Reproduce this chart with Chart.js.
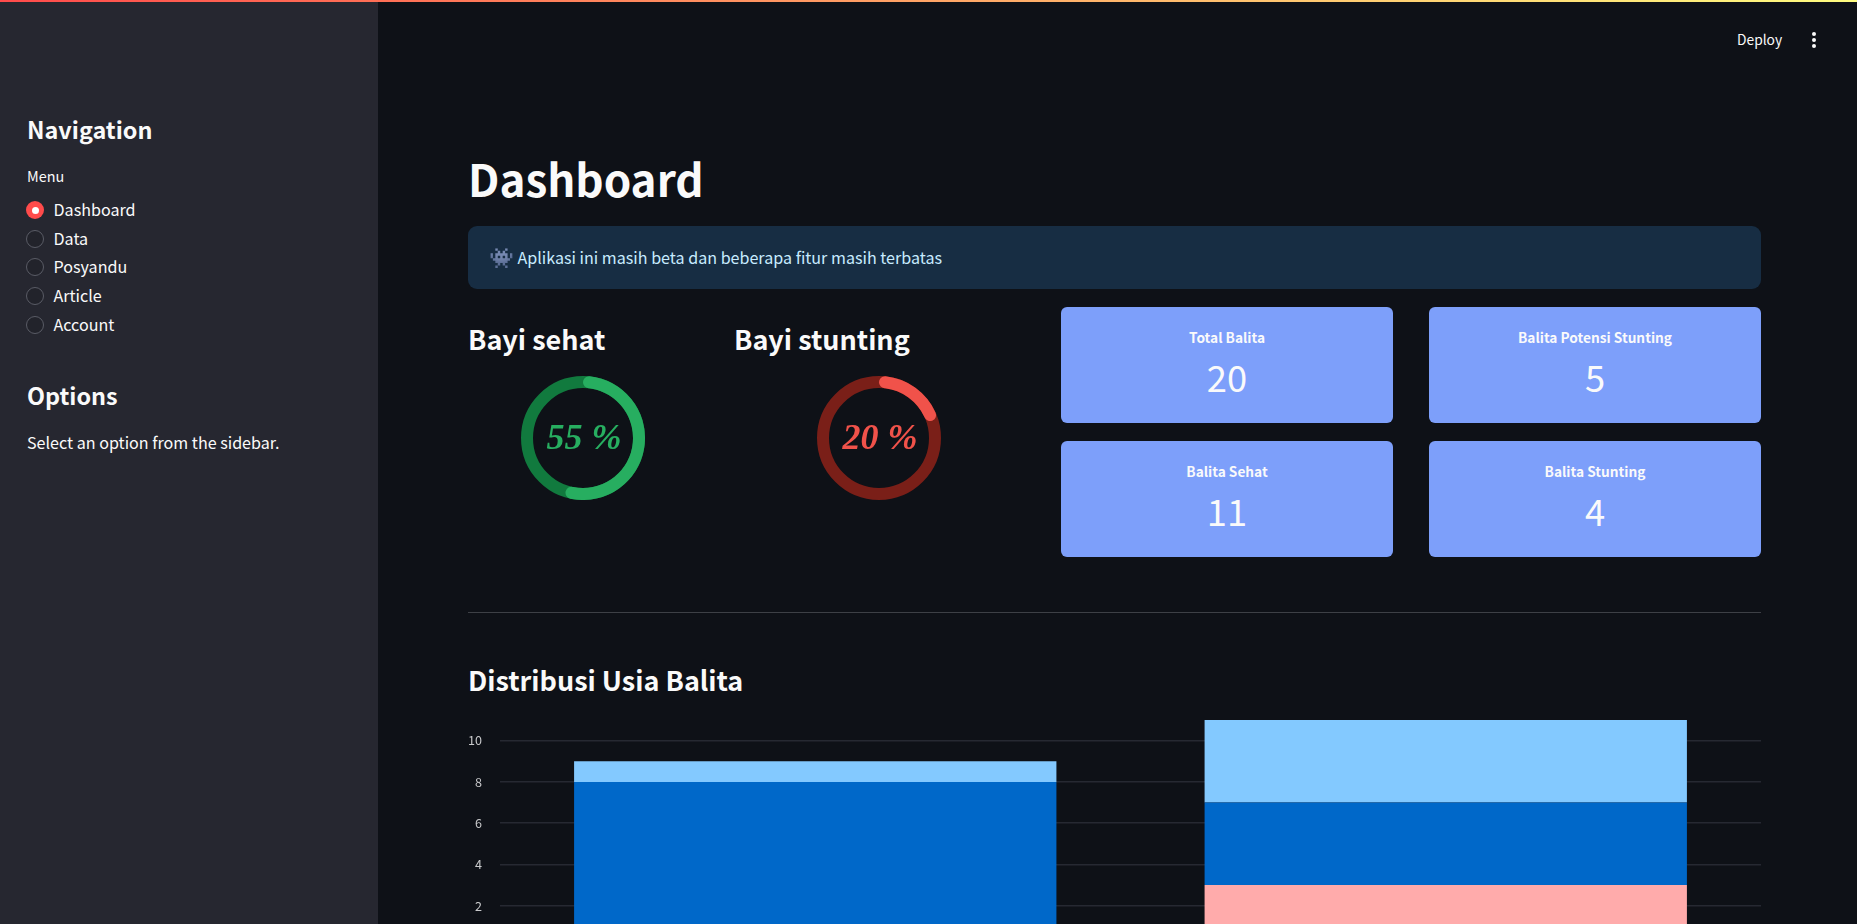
<!DOCTYPE html>
<html>
<head>
<meta charset="utf-8">
<title>Dashboard</title>
<script src="https://cdn.jsdelivr.net/npm/chart.js@4"></script>
<style>
  html, body { margin: 0; width: 1857px; height: 924px; overflow: hidden; background: #0e1117; }
  body { position: relative; color: #fafafa; font-family: "Noto Sans CJK SC", "Noto Sans", sans-serif; }
  .abs { position: absolute; white-space: nowrap; line-height: 1; }
  .mid { transform: translateY(-50%); }
  #stripe { position: absolute; left: 0; top: 0; width: 100%; height: 2px; background: linear-gradient(90deg, #ff4b4b, #fffd80); z-index: 3; }
  #sidebar { position: absolute; left: 0; top: 0; width: 378px; height: 924px; background: #262730; }
  .h-side { font-size: 23.4px; font-weight: 600; }
  .radio { position: absolute; left: 26px; width: 16px; height: 16px; border: 1px solid #5a5c66; border-radius: 50%; background: #22232b; }
  .radio.on { width: 18px; height: 18px; border: 0; background: #ff4b4b; }
  .radio.on::after { content: ""; position: absolute; left: 5.5px; top: 5.5px; width: 7px; height: 7px; background: #fff; border-radius: 50%; }
  .radio-label { font-size: 16.1px; }
  #banner { position: absolute; left: 468px; top: 226px; width: 1293px; height: 63px; background: #172d43; border-radius: 9px; }
  .h-sub { font-size: 27px; font-weight: 600; }
  .ring { position: absolute; top: 376px; width: 124px; height: 124px; }
  .ring-text { font-family: "Liberation Serif", serif; font-weight: 700; font-style: italic; font-size: 36px; transform: translate(-50%, -50%); }
  .card { position: absolute; width: 332px; height: 116px; background: #7d9ffa; border-radius: 6px; }
  .card-title { font-size: 13.7px; font-weight: 600; transform: translate(-50%, -50%); }
  .card-value { font-size: 36.3px; transform: translate(-50%, -50%); }
  #divider { position: absolute; left: 468px; top: 612px; width: 1293px; height: 1px; background: #3d4046; }
  #usia { position: absolute; left: 468px; top: 660px; }
  .dot { position: absolute; left: 1812px; width: 4px; height: 4px; border-radius: 50%; background: #fafafa; }
</style>
</head>
<body>
<div id="sidebar"></div>
<div id="stripe"></div>
<div id="page"></div>
<div class="dot" style="top:32px"></div>
<div class="dot" style="top:38px"></div>
<div class="dot" style="top:44px"></div>
<div id="banner"></div>
<div id="divider"></div>
<canvas id="usia" width="1293" height="340"></canvas>

<script>
// chart data
const usiaCategories = ['Kelompok A', 'Kelompok B'];
const pinkValues = [0, 3];
const darkValues = [8, 4];
const lightValues = [1, 4];
const usiaTicks = [0, 2, 4, 6, 8, 10];

const ringLabels = ['Bayi sehat', 'Bayi stunting'];
const ringValues = [55, 20];

const cardTitles = ['Total Balita', 'Balita Potensi Stunting', 'Balita Sehat', 'Balita Stunting'];
const cardValues = [20, 5, 11, 4];

const menuItems = ['Dashboard', 'Data', 'Posyandu', 'Article', 'Account'];

const page = document.getElementById('page');

function addText(text, cls, left, top, extra) {
  const el = document.createElement('div');
  el.className = 'abs ' + cls;
  el.textContent = text;
  el.style.left = left + 'px';
  el.style.top = top + 'px';
  if (extra) el.style.cssText += extra;
  page.appendChild(el);
  return el;
}

// sidebar
addText('Navigation', 'mid h-side', 27, 130);
addText('Menu', 'mid', 27, 176, 'font-size:14.4px');
menuItems.forEach((item, i) => {
  const y = 210 + i * 28.7;
  const radio = document.createElement('div');
  radio.className = i === 0 ? 'radio on' : 'radio';
  radio.style.top = (y - 9) + 'px';
  page.appendChild(radio);
  addText(item, 'mid radio-label', 53.5, y - 1);
});
addText('Options', 'mid h-side', 27, 396);
addText('Select an option from the sidebar.', 'mid', 27, 441.7, 'font-size:16.1px');

// header and banner
addText('Deploy', 'mid', 1737, 40, 'font-size:13.8px');
addText('Dashboard', 'mid', 468, 178, 'font-size:44px;font-weight:700');
addText('👾', 'mid', 489, 257, 'font-size:20px;z-index:2;filter:hue-rotate(-60deg) saturate(.6)');
addText('Aplikasi ini masih beta dan beberapa fitur masih terbatas', 'mid', 517.5, 257, 'font-size:16.1px;color:#c7ebff;z-index:2');

// progress rings
const ringColors = [['#27ae60', '#117a3e'], ['#f0524a', '#7a1f18']];
const ringCenters = [583, 879];
const ringHeadX = [468, 734];

const ringTrack = {
  id: 'ringTrack',
  beforeDatasetsDraw(chart, args, opts) {
    const arc = chart.getDatasetMeta(0).data[0];
    const { ctx } = chart;
    ctx.save();
    ctx.beginPath();
    ctx.arc(arc.x, arc.y, (arc.outerRadius + arc.innerRadius) / 2, 0, Math.PI * 2);
    ctx.lineWidth = arc.outerRadius - arc.innerRadius;
    ctx.strokeStyle = opts.color;
    ctx.stroke();
    ctx.restore();
  },
};

ringValues.forEach((value, i) => {
  addText(ringLabels[i], 'mid h-sub', ringHeadX[i], 337.5);
  const canvas = document.createElement('canvas');
  canvas.className = 'ring';
  canvas.width = 124;
  canvas.height = 124;
  canvas.style.left = (ringCenters[i] - 62) + 'px';
  page.appendChild(canvas);
  new Chart(canvas, {
    type: 'doughnut',
    data: {
      labels: ['nilai', 'sisa'],
      datasets: [{
        data: [value, 100 - value],
        backgroundColor: [ringColors[i][0], 'transparent'],
        borderWidth: 0,
        borderRadius: [6, 0],
      }],
    },
    options: {
      responsive: false,
      animation: false,
      cutout: 50,
      plugins: {
        legend: { display: false },
        tooltip: { enabled: false },
        ringTrack: { color: ringColors[i][1] },
      },
    },
    plugins: [ringTrack],
  });
  addText(value + ' %', 'ring-text', ringCenters[i] + 1, 437, 'color:' + ringColors[i][0]);
});

// metric cards
const cardX = [1061, 1429];
const cardY = [307, 441];
cardTitles.forEach((title, i) => {
  const left = cardX[i % 2];
  const top = cardY[Math.floor(i / 2)];
  const card = document.createElement('div');
  card.className = 'card';
  card.style.left = left + 'px';
  card.style.top = top + 'px';
  page.appendChild(card);
  addText(title, 'card-title', left + 166, top + 31);
  addText(String(cardValues[i]), 'card-value', left + 166, top + 68.5);
});

addText('Distribusi Usia Balita', 'mid h-sub', 468, 678.7);

// stacked bars, page ends before the axis does
new Chart(document.getElementById('usia'), {
  type: 'bar',
  data: {
    labels: usiaCategories,
    datasets: [
      { label: 'pink', data: pinkValues, backgroundColor: '#ffabab' },
      { label: 'dark', data: darkValues, backgroundColor: '#0068c9' },
      { label: 'light', data: lightValues, backgroundColor: '#83c9ff' },
    ],
  },
  options: {
    responsive: false,
    animation: false,
    layout: { padding: { top: 48, bottom: 53 } },
    datasets: { bar: { categoryPercentage: 1, barPercentage: 0.765, borderWidth: 0 } },
    plugins: { legend: { display: false }, tooltip: { enabled: false } },
    scales: {
      x: { stacked: true, display: false },
      y: {
        stacked: true,
        min: 0,
        max: 11.58,
        afterFit(scale) { scale.width = 32; },
        afterBuildTicks(scale) { scale.ticks = usiaTicks.map((value) => ({ value })); },
        border: { display: false },
        grid: { color: '#262932', lineWidth: 1.5, drawTicks: false },
        ticks: {
          color: '#c9cacc',
          padding: 18,
          font: { family: '"Noto Sans CJK SC"', size: 12.6 },
        },
      },
    },
  },
});
</script>
</body>
</html>
